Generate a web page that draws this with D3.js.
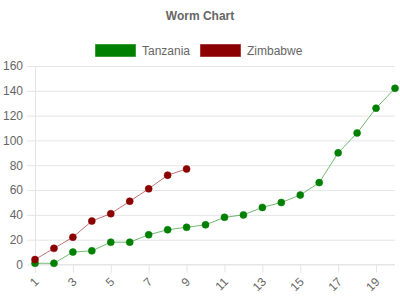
<!DOCTYPE html>
<html>
<head>
<meta charset="utf-8">
<script src="https://cdn.jsdelivr.net/npm/d3@7"></script>
<style>
  body { margin: 0; background: #fff; }
  text { font-family: "Liberation Sans", Arial, sans-serif; fill: #666; }
</style>
</head>
<body>
<svg id="chart" width="400" height="300"></svg>
<script>
var days = d3.range(1, 21);
var tanzania = [1, 1, 10, 11, 18, 18, 24, 28, 30, 32, 38, 40, 46, 50, 56, 66, 90, 106, 126, 142];
var zimbabwe = [4, 13, 22, 35, 41, 51, 61, 72, 77];
var yTicks = [0, 20, 40, 60, 80, 100, 120, 140, 160];

var series = [
  {name: "Tanzania", values: tanzania, fill: "#008000", stroke: "rgba(0,128,0,0.55)"},
  {name: "Zimbabwe", values: zimbabwe, fill: "#8b0000", stroke: "rgba(139,0,0,0.55)"}
];

var svg = d3.select("#chart");

var x = d3.scaleLinear().domain([1, 20]).range([35, 395]);
var y = d3.scaleLinear().domain([0, 160]).range([264.5, 66]);

// title
svg.append("text")
  .attr("x", 200).attr("y", 20)
  .attr("text-anchor", "middle")
  .style("font-size", "12px").style("font-weight", "bold")
  .text("Worm Chart");

// legend
var legend = svg.append("g");
var legX = [95, 200];
series.forEach(function(s, i){
  legend.append("rect")
    .attr("x", legX[i] + 0.5).attr("y", 44.5)
    .attr("width", 40).attr("height", 12)
    .attr("fill", s.fill)
    .attr("stroke", s.stroke);
  legend.append("text")
    .attr("x", legX[i] + 47).attr("y", 55)
    .style("font-size", "12px")
    .text(s.name);
});

// y axis + grid
var yAxis = d3.axisLeft(y).tickValues(yTicks).tickSize(-(395 - 27) + 8).tickPadding(12);
var gy = svg.append("g")
  .attr("transform", "translate(35,0)")
  .call(yAxis);
gy.select(".domain").remove();
gy.selectAll(".tick line")
  .attr("x1", -8).attr("x2", 360)
  .attr("stroke", "#e5e5e5");
gy.selectAll(".tick text").style("font-size", "12px").attr("x", -12).attr("fill", "#666");

// y axis line
svg.append("line")
  .attr("x1", 35.5).attr("x2", 35.5)
  .attr("y1", 66).attr("y2", 273)
  .attr("stroke", "#e5e5e5");

// x axis
var xAxis = d3.axisBottom(x)
  .tickValues(days.filter(function(d){ return d % 2 === 1; }))
  .tickSize(8).tickSizeOuter(0);
var gx = svg.append("g")
  .attr("transform", "translate(0,264.5)")
  .call(xAxis);
gx.select(".domain").attr("stroke", "#e5e5e5").attr("d", "M35,0H395");
gx.selectAll(".tick line").attr("stroke", "#e5e5e5");
gx.selectAll(".tick text")
  .style("font-size", "12px")
  .attr("fill", "#666")
  .attr("text-anchor", "end")
  .attr("dy", null)
  .attr("y", 0)
  .attr("transform", "translate(4,18) rotate(-45)");

// lines and points
var line = d3.line()
  .x(function(d, i){ return x(days[i]); })
  .y(function(d){ return y(d); });

series.forEach(function(s){
  svg.append("path")
    .datum(s.values)
    .attr("d", line)
    .attr("fill", "none")
    .attr("stroke", s.stroke)
    .attr("stroke-width", 1);
});

series.forEach(function(s){
  svg.append("g").selectAll("circle")
    .data(s.values)
    .enter()
    .append("circle")
    .attr("cx", function(d, i){ return x(days[i]); })
    .attr("cy", function(d){ return y(d); })
    .attr("r", 3.5)
    .attr("fill", s.fill)
    .attr("stroke", s.stroke)
    .attr("stroke-width", 1);
});
</script>
</body>
</html>
